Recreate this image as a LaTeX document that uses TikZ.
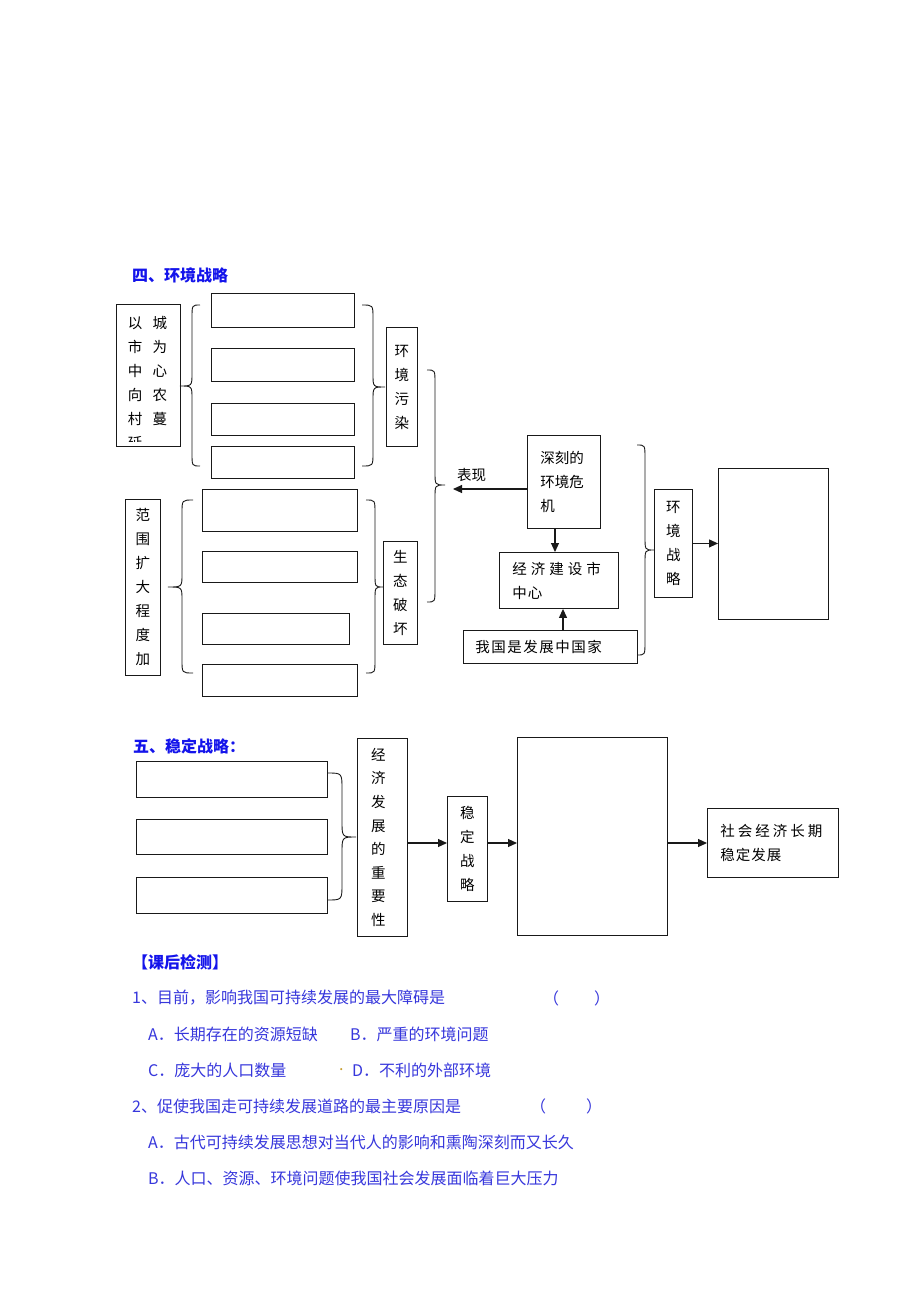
\documentclass[tikz,border=0pt]{standalone}
\usepackage{fontspec}
\setmainfont{Noto Sans CJK SC}
\usetikzlibrary{arrows.meta}
\definecolor{ttl}{RGB}{20,20,235}
\definecolor{qcol}{RGB}{55,55,220}
\definecolor{dotc}{RGB}{200,160,50}
\definecolor{lin}{RGB}{25,25,25}
% brace: x0, xv, xtip, ytop, ymid, ybot, radius
\newcommand\brc[7]{%
  \draw[brace] (#1,#4) .. controls (#2,#4) .. (#2,{#4+#7}) -- (#2,{#5-#7})
    .. controls (#2,#5) .. (#3,#5) .. controls (#2,#5) .. (#2,{#5+#7})
    -- (#2,{#6-#7}) .. controls (#2,#6) .. (#1,#6);}
\begin{document}
\begin{tikzpicture}[x=1pt,y=-1pt,
  box/.style={draw=lin, line width=0.9pt, rectangle, inner sep=0pt, anchor=north west},
  dtxt/.style={font={\fontsize{14.5}{24}\selectfont}},
  vt/.style={dtxt, align=center},
  arr/.style={draw=lin, line width=1.1pt, -{Triangle[length=9pt,width=8pt]}},
  brace/.style={draw=lin, line width=0.9pt},
  ttlst/.style={font={\fontsize{16}{16}\selectfont\bfseries}, text=ttl, anchor=west, inner sep=0pt},
  q/.style={font={\fontsize{16}{16}\selectfont}, text=qcol, anchor=west, inner sep=0pt}]
\useasboundingbox[fill=white] (0,0) rectangle (920,1302);

% ---------- 四、环境战略 ----------
\node[ttlst] (t4) at (132,275) {四、环境战略};

\node[box, minimum width=64pt, minimum height=142pt] (cv) at (116,304) {};
\begin{scope}
  \clip (117,305) rectangle (179,441);
  \node[dtxt, align=left, inner sep=0pt] (cvtext) at (147.5,383)
    {以\hspace{10.5pt}城\\市\hspace{10.5pt}为\\中\hspace{10.5pt}心\\向\hspace{10.5pt}农\\村\hspace{10.5pt}蔓\\延};
\end{scope}
\brc{200}{192}{180}{305}{386}{466}{13}

\node[box, minimum width=143pt, minimum height=34pt] (e1) at (211,293) {};
\node[box, minimum width=143pt, minimum height=33pt] (e2) at (211,348) {};
\node[box, minimum width=143pt, minimum height=32pt] (e3) at (211,403) {};
\node[box, minimum width=143pt, minimum height=32pt] (e4) at (211,446) {};
\brc{362}{373}{385}{305}{387}{466}{13}
\node[box, vt, minimum width=31pt, minimum height=119pt] (pol) at (386,327) {环\\境\\污\\染};

\node[box, vt, minimum width=35pt, minimum height=176pt] (rng) at (125,499) {范\\围\\扩\\大\\程\\度\\加};
\brc{193}{182}{168}{500}{587}{673}{13}
\node[box, minimum width=155pt, minimum height=42pt] (f1) at (202,489) {};
\node[box, minimum width=155pt, minimum height=31pt] (f2) at (202,551) {};
\node[box, minimum width=147pt, minimum height=31pt] (f3) at (202,613) {};
\node[box, minimum width=155pt, minimum height=32pt] (f4) at (202,664) {};
\brc{366}{375}{383}{500}{587}{673}{13}
\node[box, vt, minimum width=34pt, minimum height=103pt] (eco) at (383,541) {生\\态\\破\\坏};

\brc{427}{435}{445}{370}{485}{602}{13}

\node[box, dtxt, minimum width=73pt, minimum height=93pt, text width=47pt, inner xsep=13pt, align=left] (crisis) at (527,435) {深刻的\\环境危\\机};
\node[dtxt, anchor=west, inner sep=0pt] (bx) at (457,475) {表现};
\coordinate (bxend) at (453,489);
\draw[arr] (crisis.west |- bxend) -- (bxend);

\node[box, dtxt, minimum width=119pt, minimum height=56pt, text width=93pt, inner xsep=13pt, align=left] (econ) at (499,552)
  {经\hspace{4pt}济\hspace{4pt}建\hspace{4pt}设\hspace{4pt}市\\中\hspace{1pt}心};
\node[box, dtxt, minimum width=174pt, minimum height=33pt, text width=150pt, inner xsep=12pt, align=left] (nation) at (463,630)
  {我\hspace{1.5pt}国\hspace{1.5pt}是\hspace{1.5pt}发\hspace{1.5pt}展\hspace{1.5pt}中\hspace{1.5pt}国\hspace{1.5pt}家};
\coordinate (ax1) at (555,0);
\coordinate (ax2) at (563,0);
\draw[arr] (crisis.south -| ax1) -- (econ.north -| ax1);
\draw[arr] (nation.north -| ax2) -- (econ.south -| ax2);

\brc{637}{645}{654}{445}{550}{655}{13}
\node[box, vt, minimum width=38pt, minimum height=108pt] (strat) at (654,489) {环\\境\\战\\略};
\node[box, minimum width=110pt, minimum height=151pt] (big1) at (718,468) {};
\draw[arr] (strat.east) -- (big1.west |- strat.east);

% ---------- 五、稳定战略 ----------
\node[ttlst] (t5) at (133,746) {五、稳定战略：};
\node[box, minimum width=191pt, minimum height=36pt] (g1) at (136,761) {};
\node[box, minimum width=191pt, minimum height=35pt] (g2) at (136,819) {};
\node[box, minimum width=191pt, minimum height=36pt] (g3) at (136,877) {};
\brc{327}{342}{356}{773}{837}{900}{16}
\node[box, vt, minimum width=50pt, minimum height=198pt, font={\fontsize{14.5}{23.6}\selectfont}] (imp) at (357,738)
  {\hspace*{-8pt}经\\\hspace*{-8pt}济\\\hspace*{-8pt}发\\\hspace*{-8pt}展\\\hspace*{-8pt}的\\\hspace*{-8pt}重\\\hspace*{-8pt}要\\\hspace*{-8pt}性};
\node[box, vt, minimum width=40pt, minimum height=105pt] (stab) at (447,796) {稳\\定\\战\\略};
\node[box, minimum width=150pt, minimum height=198pt] (big2) at (517,737) {};
\node[box, dtxt, minimum width=131pt, minimum height=69pt, text width=105pt, inner xsep=13pt, align=left] (res) at (707,808)
  {社\hspace{3pt}会\hspace{3pt}经\hspace{3pt}济\hspace{3pt}长\hspace{3pt}期\\稳\hspace{1pt}定\hspace{1pt}发\hspace{1pt}展};
\coordinate (ay) at (0,843);
\draw[arr] (imp.east |- ay) -- (stab.west |- ay);
\draw[arr] (stab.east |- ay) -- (big2.west |- ay);
\draw[arr] (big2.east |- ay) -- (res.west |- ay);

% ---------- 课后检测 ----------
\node[ttlst] (kh) at (132,962) {【课后检测】};
\node[q] (q1) at (132,998) {1、目前，影响我国可持续发展的最大障碍是};
\node[q] (q1p) at (543,998) {（\hspace{35pt}）};
\node[q] (q1a) at (148,1034) {A．长期存在的资源短缺};
\node[q] (q1b) at (350,1034) {B．严重的环境问题};
\node[q] (q1c) at (148,1070) {C．庞大的人口数量};
\node[q, text=dotc] (q1dot) at (339,1070) {.};
\node[q] (q1d) at (352,1070) {D．不利的外部环境};
\node[q] (q2) at (132,1106) {2、促使我国走可持续发展道路的最主要原因是};
\node[q] (q2p) at (530,1106) {（\hspace{40pt}）};
\node[q] (q2a) at (148,1142) {A．古代可持续发展思想对当代人的影响和熏陶深刻而又长久};
\node[q] (q2b) at (148,1178) {B．人口、资源、环境问题使我国社会发展面临着巨大压力};
\end{tikzpicture}
\end{document}
